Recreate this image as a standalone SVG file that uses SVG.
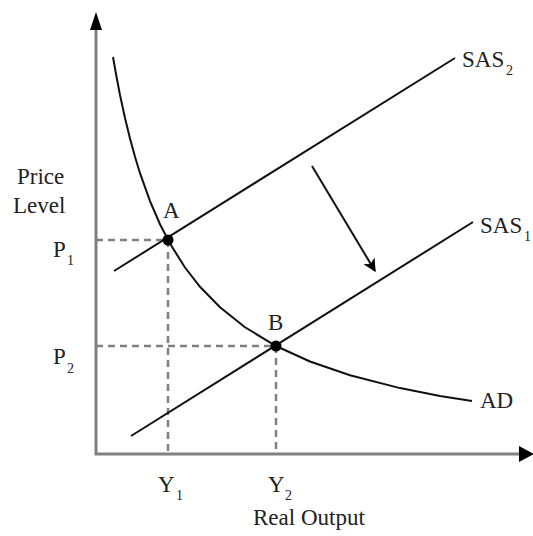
<svg xmlns="http://www.w3.org/2000/svg" width="533" height="536" viewBox="0 0 533 536">
<defs>
<marker id="ah" viewBox="0 0 10 10" refX="9" refY="5" markerWidth="17" markerHeight="13" markerUnits="userSpaceOnUse" orient="auto">
<path d="M0,0 L10,5 L0,10 L2.5,5 z" fill="#000"/>
</marker>
<style>
.axis{stroke:#808080;stroke-width:3;fill:none}
.dash{stroke:#808080;stroke-width:2.5;stroke-dasharray:7 5;fill:none}
.curve{stroke:#111;stroke-width:2;fill:none}
.lbl{font-family:"Liberation Serif","Times New Roman",serif;font-size:23px;fill:#222}
.sub{font-family:"Liberation Serif","Times New Roman",serif;font-size:14px;fill:#222}
</style>
</defs>
<rect width="533" height="536" fill="#fff"/>
<g id="axes">
<polyline class="axis" points="96,26 96,454 522,454"/>
<polygon points="96,12 90,30 102,30" fill="#000"/>
<polygon points="534,454 519,446 519,462" fill="#000"/>
</g>
<g id="connectors">
<line class="dash" x1="96" y1="240" x2="168" y2="240"/>
<line class="dash" x1="168" y1="240" x2="168" y2="454"/>
<line class="dash" x1="96" y1="346" x2="276" y2="346"/>
<line class="dash" x1="276" y1="346" x2="276" y2="454"/>
<line x1="312" y1="166" x2="375" y2="271" stroke="#111" stroke-width="2" marker-end="url(#ah)"/>
</g>
<g id="AD">
<path class="curve" d="M113,57 L116,74 L120,95 L125,118 L130,138.6 L135,156.8 L140,173.2 L150,201.1 L160,224.2 L170,243.6 L185,267.5 L200,286.8 L220,307.3 L245,327.3 L276,346 L310,361.5 L350,375.3 L400,388.1 L440,396.1 L472,401"/>
<text class="lbl" x="480" y="408">AD</text>
</g>
<g id="SAS2">
<line class="curve" x1="114" y1="271" x2="455" y2="58"/>
<text class="lbl" x="462" y="67">SAS</text><text class="sub" x="506" y="75">2</text>
</g>
<g id="SAS1">
<line class="curve" x1="131" y1="436" x2="473" y2="222"/>
<text class="lbl" x="480" y="233">SAS</text><text class="sub" x="524" y="241">1</text>
</g>
<g id="A">
<circle cx="168" cy="240" r="5.5" fill="#000"/>
<text class="lbl" x="163" y="218">A</text>
</g>
<g id="B">
<circle cx="276" cy="346" r="5.5" fill="#000"/>
<text class="lbl" x="268" y="330">B</text>
</g>
<g id="labels">
<text class="lbl" x="17" y="184">Price</text>
<text class="lbl" x="13" y="213">Level</text>
<text class="lbl" x="53" y="257">P</text><text class="sub" x="67" y="265">1</text>
<text class="lbl" x="53" y="364">P</text><text class="sub" x="67" y="373">2</text>
<text class="lbl" x="158" y="492">Y</text><text class="sub" x="176" y="500">1</text>
<text class="lbl" x="268" y="492">Y</text><text class="sub" x="285" y="500">2</text>
<text class="lbl" x="253" y="525">Real Output</text>
</g>
</svg>
